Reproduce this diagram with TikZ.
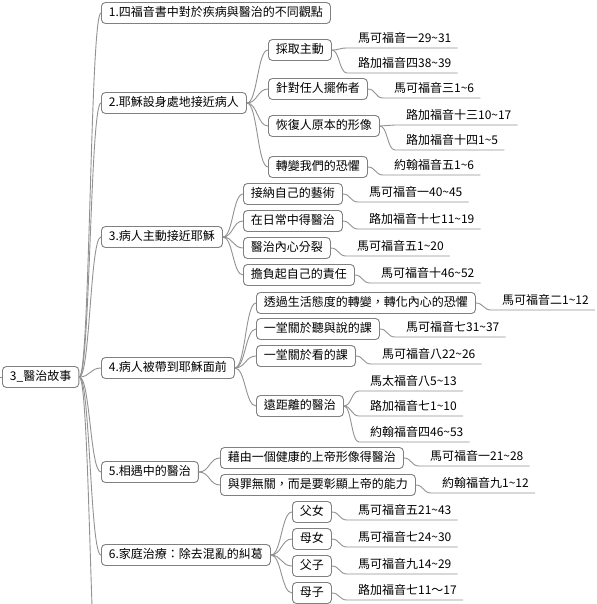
\documentclass[tikz,border=0pt]{standalone}
\usepackage{fontspec}
\setmainfont{Noto Sans CJK TC}
\usetikzlibrary{calc}
\definecolor{boxline}{HTML}{808080}
\definecolor{connline}{HTML}{929292}
\tikzset{
  box/.style={draw=boxline, line width=0.9pt, rounded corners=4pt, fill=white,
    anchor=west, inner xsep=7.5pt, inner ysep=0pt, minimum height=21pt,
    text height=9.5pt, text depth=2.5pt, font=\fontsize{12}{14}\selectfont},
  leaf/.style={anchor=south west, inner xsep=0pt, inner ysep=3pt,
    text height=9.5pt, text depth=2.5pt, font=\fontsize{12}{14}\selectfont},
  conn/.style={draw=connline, line width=0.9pt},
}
\newcommand{\bconn}[2]{\draw[conn] let \p1=(#1.east), \p2=(#2.west) in
  (\p1) .. controls ({(\x1+\x2)/2},\y1) and ({(\x1+\x2)/2},\y2) .. (\p2);}
\newcommand{\lconn}[2]{\draw[conn] let \p1=(#1.east), \p2=([xshift=-11pt]#2.south west) in
  (\p1) .. controls ({(\x1+\x2)/2},\y1) and ({(\x1+\x2)/2},\y2) .. (\p2) -- ([xshift=6pt]#2.south east);}
\newcommand{\tld}{\textasciitilde}
\begin{document}
\begin{tikzpicture}[x=1pt,y=-1pt]
\useasboundingbox (0,0) rectangle (596,604);
\clip (0,0) rectangle (596,604);
\fill[white] (0,0) rectangle (596,604);
% root
\node[box] (R) at (2,377) {3\_醫治故事};
% level 1
\node[box] (a1) at (101,13) {1.四福音書中對於疾病與醫治的不同觀點};
\node[box] (a2) at (101,103) {2.耶穌設身處地接近病人};
\node[box] (a3) at (101,237) {3.病人主動接近耶穌};
\node[box] (a4) at (101,368) {4.病人被帶到耶穌面前};
\node[box] (a5) at (101,472) {5.相遇中的醫治};
\node[box] (a6) at (101,555) {6.家庭治療：除去混亂的糾葛};
% level 2
\node[box] (b21) at (268,50) {採取主動};
\node[box] (b22) at (268,89) {針對任人擺佈者};
\node[box] (b23) at (268,126) {恢復人原本的形像};
\node[box] (b24) at (268,167) {轉變我們的恐懼};
\node[box] (b31) at (243,194) {接納自己的藝術};
\node[box] (b32) at (243,221) {在日常中得醫治};
\node[box] (b33) at (243,248) {醫治內心分裂};
\node[box] (b34) at (243,275) {擔負起自己的責任};
\node[box] (b41) at (256,303) {透過生活態度的轉變，轉化內心的恐懼};
\node[box] (b42) at (256,329) {一堂關於聽與說的課};
\node[box] (b43) at (256,356) {一堂關於看的課};
\node[box] (b44) at (256,406) {遠距離的醫治};
\node[box] (b51) at (220,458) {藉由一個健康的上帝形像得醫治};
\node[box] (b52) at (220,485) {與罪無關，而是要彰顯上帝的能力};
\node[box] (b61) at (292,512) {父女};
\node[box] (b62) at (292,539) {母女};
\node[box] (b63) at (292,566) {父子};
\node[box] (b64) at (292,593) {母子};
% leaves
\path (b21.east) ++(26,-2) node[leaf] (c211) {馬可福音一29\tld31};
\path (b21.east) ++(26,23) node[leaf] (c212) {路加福音四38\tld39};
\path (b22.east) ++(26,9) node[leaf] (c221) {馬可福音三1\tld6};
\path (b23.east) ++(26,-1) node[leaf] (c231) {路加福音十三10\tld17};
\path (b23.east) ++(26,24) node[leaf] (c232) {路加福音十四1\tld5};
\path (b24.east) ++(26,8) node[leaf] (c241) {約翰福音五1\tld6};
\path (b31.east) ++(26,8) node[leaf] (c311) {馬可福音一40\tld45};
\path (b32.east) ++(26,8) node[leaf] (c321) {路加福音十七11\tld19};
\path (b33.east) ++(26,8) node[leaf] (c331) {馬可福音五1\tld20};
\path (b34.east) ++(26,8) node[leaf] (c341) {馬可福音十46\tld52};
\path (b41.east) ++(26,7) node[leaf] (c411) {馬可福音二1\tld12};
\path (b42.east) ++(26,8) node[leaf] (c421) {馬可福音七31\tld37};
\path (b43.east) ++(26,8) node[leaf] (c431) {馬可福音八22\tld26};
\path (b44.east) ++(26,-15) node[leaf] (c441) {馬太福音八5\tld13};
\path (b44.east) ++(26,10) node[leaf] (c442) {路加福音七1\tld10};
\path (b44.east) ++(26,36) node[leaf] (c443) {約翰福音四46\tld53};
\path (b51.east) ++(26,8) node[leaf] (c511) {馬可福音一21\tld28};
\path (b52.east) ++(26,8) node[leaf] (c521) {約翰福音九1\tld12};
\path (b61.east) ++(26,8) node[leaf] (c611) {馬可福音五21\tld43};
\path (b62.east) ++(26,8) node[leaf] (c621) {馬可福音七24\tld30};
\path (b63.east) ++(26,8) node[leaf] (c631) {馬可福音九14\tld29};
\path (b64.east) ++(26,7) node[leaf] (c641) {路加福音七11～17};
% connectors root -> level 1
\coordinate (lft) at (0,377);
\draw[conn] (lft) -- (R.west);
\foreach \q in {a1,a2,a3,a4,a5,a6} {\bconn{R}{\q}}
\coordinate (bot) at (101,720);
\draw[conn] let \p1=(R.east), \p2=(bot) in
  (\p1) .. controls ({(\x1+\x2)/2},\y1) and ({(\x1+\x2)/2},\y2) .. (\p2);
% level 1 -> level 2
\foreach \q in {b21,b22,b23,b24} {\bconn{a2}{\q}}
\foreach \q in {b31,b32,b33,b34} {\bconn{a3}{\q}}
\foreach \q in {b41,b42,b43,b44} {\bconn{a4}{\q}}
\foreach \q in {b51,b52} {\bconn{a5}{\q}}
\foreach \q in {b61,b62,b63,b64} {\bconn{a6}{\q}}
% level 2 -> leaves
\lconn{b21}{c211}
\lconn{b21}{c212}
\lconn{b22}{c221}
\lconn{b23}{c231}
\lconn{b23}{c232}
\lconn{b24}{c241}
\lconn{b31}{c311}
\lconn{b32}{c321}
\lconn{b33}{c331}
\lconn{b34}{c341}
\lconn{b41}{c411}
\lconn{b42}{c421}
\lconn{b43}{c431}
\lconn{b44}{c441}
\lconn{b44}{c442}
\lconn{b44}{c443}
\lconn{b51}{c511}
\lconn{b52}{c521}
\lconn{b61}{c611}
\lconn{b62}{c621}
\lconn{b63}{c631}
\lconn{b64}{c641}
\end{tikzpicture}
\end{document}
